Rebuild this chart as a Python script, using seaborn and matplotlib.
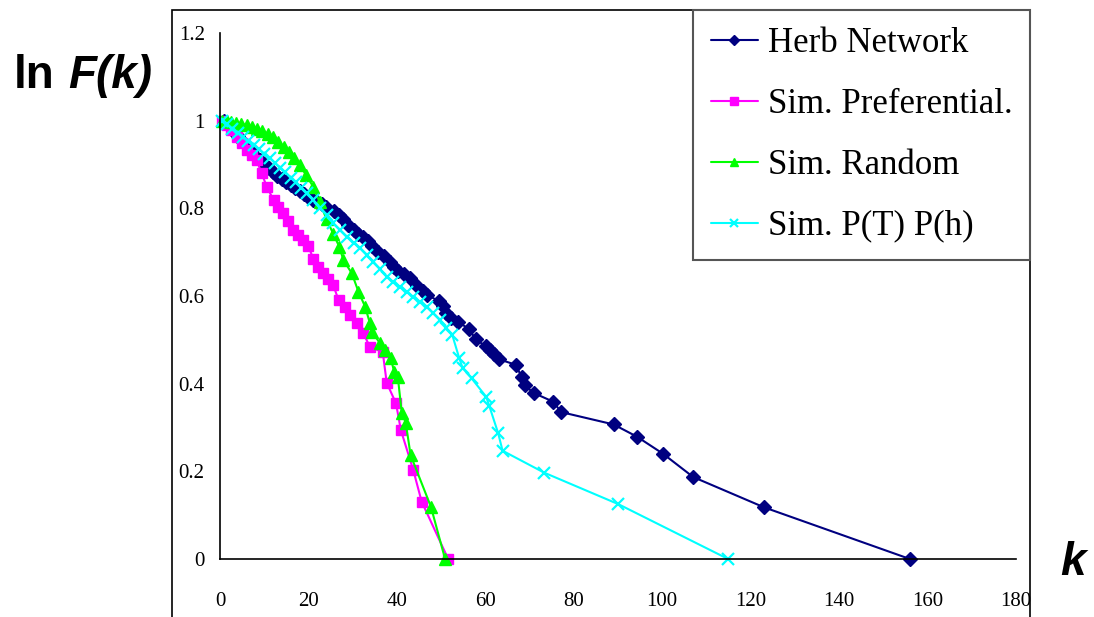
import matplotlib
matplotlib.use("Agg")
import matplotlib.pyplot as plt
from matplotlib.patches import Rectangle
import seaborn as sns

# Cumulative degree distribution, ln F(k) versus k
herb_k = [1, 2, 3, 4, 5, 6, 7, 8, 9, 10, 11, 12, 13, 14, 15, 16, 17, 18, 19, 20,
          21, 22, 23, 24, 25.7, 26.9, 27.9, 29.0, 30.3, 31.1, 32.4, 33.4, 34.4, 35.7,
          37.1, 38.4, 39.4, 40.3, 41.6, 43.0, 44.6, 45.8, 46.9, 49.6, 50.4, 51.2, 52.3,
          53.9, 56.2, 57.9, 60.1, 61.1, 62.0, 63.0, 66.9, 68.2, 68.9, 70.9, 75.3, 77.2,
          89.0, 94.3, 100.2, 107.0, 123.0, 156.0]
herb_f = [1.000, 0.988, 0.977, 0.965, 0.953, 0.942, 0.931, 0.920, 0.910, 0.900,
          0.891, 0.882, 0.874, 0.867, 0.860, 0.853, 0.846, 0.839, 0.832, 0.826,
          0.820, 0.815, 0.810, 0.803, 0.795, 0.784, 0.776, 0.762, 0.750, 0.741,
          0.734, 0.726, 0.714, 0.701, 0.692, 0.678, 0.667, 0.656, 0.651, 0.642,
          0.623, 0.611, 0.602, 0.588, 0.577, 0.561, 0.550, 0.541, 0.525, 0.501,
          0.485, 0.476, 0.467, 0.456, 0.443, 0.415, 0.396, 0.379, 0.359, 0.335,
          0.307, 0.279, 0.240, 0.187, 0.118, 0.000]

pref_k = [0.5, 1.5, 2.6, 3.8, 5.0, 6.2, 7.3, 8.3, 9.4, 10.6, 12.1, 13.2, 14.3, 15.4,
          16.6, 17.7, 18.8, 20.0, 21.1, 22.2, 23.4, 24.5, 25.6, 26.8, 28.3, 29.4,
          30.9, 32.4, 33.9, 36.8, 37.7, 39.8, 40.9, 43.7, 45.6, 51.6]
pref_f = [1.000, 0.990, 0.978, 0.963, 0.948, 0.932, 0.921, 0.910, 0.880, 0.849,
          0.819, 0.804, 0.789, 0.770, 0.751, 0.740, 0.728, 0.713, 0.685, 0.667,
          0.652, 0.638, 0.625, 0.591, 0.576, 0.557, 0.538, 0.515, 0.484, 0.472,
          0.402, 0.355, 0.294, 0.203, 0.131, 0.000]

rand_k = [0.4, 1.5, 2.6, 3.7, 4.8, 6.0, 7.2, 8.4, 9.6, 10.8, 12.0, 13.2, 14.4, 15.6,
          16.8, 18.1, 19.5, 21.1, 22.5, 24.1, 25.6, 27.0, 27.9, 29.8, 31.3, 32.8,
          33.9, 34.3, 36.2, 37.3, 38.6, 39.4, 40.2, 41.1, 42.0, 43.1, 47.7, 50.9]
rand_f = [1.000, 1.000, 0.998, 0.995, 0.993, 0.990, 0.986, 0.982, 0.977, 0.970,
          0.962, 0.952, 0.940, 0.928, 0.915, 0.898, 0.875, 0.849, 0.815, 0.775,
          0.742, 0.712, 0.682, 0.652, 0.610, 0.576, 0.538, 0.519, 0.492, 0.477,
          0.458, 0.427, 0.416, 0.334, 0.311, 0.237, 0.119, 0.000]

pth_k = [0.4, 1.6, 2.8, 4.0, 5.2, 6.4, 7.6, 8.8, 10.0, 11.2, 12.4, 13.6, 14.8, 16.0,
         17.2, 18.4, 19.6, 21.1, 22.6, 24.1, 25.6, 27.2, 28.7, 30.2, 31.7, 33.2,
         34.7, 36.2, 37.7, 39.2, 40.7, 42.2, 43.7, 45.2, 46.7, 48.2, 49.8, 51.1,
         52.5, 54.1, 54.9, 56.9, 60.2, 60.9, 62.9, 63.9, 73.3, 90.1, 114.9]
pth_f = [1.000, 0.992, 0.982, 0.972, 0.963, 0.954, 0.944, 0.935, 0.925, 0.915,
         0.904, 0.893, 0.882, 0.870, 0.859, 0.847, 0.835, 0.819, 0.801, 0.785,
         0.766, 0.750, 0.735, 0.722, 0.709, 0.693, 0.678, 0.661, 0.644, 0.632,
         0.621, 0.610, 0.598, 0.587, 0.576, 0.561, 0.545, 0.528, 0.512, 0.458,
         0.435, 0.412, 0.370, 0.349, 0.287, 0.247, 0.197, 0.125, 0.000]

series_names = ["Herb Network", "Sim. Preferential.", "Sim. Random", "Sim. P(T) P(h)"]
x_ticks = [0, 20, 40, 60, 80, 100, 120, 140, 160, 180]
y_ticks = [0, 0.2, 0.4, 0.6, 0.8, 1, 1.2]
y_tick_labels = ["0", "0.2", "0.4", "0.6", "0.8", "1", "1.2"]

sns.set_style("white")
plt.rcParams["font.family"] = ["Liberation Serif", "DejaVu Serif"]
plt.rcParams["text.color"] = "black"
plt.rcParams["xtick.color"] = "black"
plt.rcParams["ytick.color"] = "black"

W, H = 1094, 617
fig = plt.figure(figsize=(W / 100, H / 100), dpi=100)
ax = fig.add_axes([220 / W, 1 - 559 / H, (1016 - 220) / W, (559 - 33) / H])

styles = [
    (herb_k, herb_f, "#000080", "D", 7.0, 1.0),
    (pref_k, pref_f, "#FF00FF", "s", 7.5, 1.0),
    (rand_k, rand_f, "#00FF00", "^", 8.5, 1.0),
    (pth_k, pth_f, "#00FFFF", "x", 8.5, 1.6),
]
for name, (ks, fs, col, mk, ms, mew) in zip(series_names, styles):
    sns.lineplot(x=ks, y=fs, ax=ax, color=col, marker=mk, markersize=ms,
                 markeredgecolor=col, markerfacecolor=col, markeredgewidth=mew,
                 linewidth=1.5, estimator=None, sort=False, label=name,
                 clip_on=False)

ax.set_xlim(0, 180)
ax.set_ylim(0, 1.2)
ax.set_xticks(x_ticks)
ax.set_xticklabels([str(v) for v in x_ticks])
ax.set_yticks(y_ticks)
ax.set_yticklabels(y_tick_labels)
ax.tick_params(axis="both", direction="in", length=5, width=1, color="#666666",
               labelsize=15, labelcolor="black")
ax.tick_params(axis="x", pad=24)
ax.tick_params(axis="y", pad=11)
for side in ("top", "right"):
    ax.spines[side].set_visible(False)
for side in ("left", "bottom"):
    ax.spines[side].set_color("black")
    ax.spines[side].set_linewidth(1.2)
ax.set_xlabel("")
ax.set_ylabel("")

handles, labels = ax.get_legend_handles_labels()
if ax.get_legend() is not None:
    ax.get_legend().remove()
leg = fig.legend(handles, labels, loc="upper right",
                 bbox_to_anchor=(1030 / W, 1 - 10 / H), bbox_transform=fig.transFigure,
                 fontsize=25, frameon=True, fancybox=False, framealpha=1,
                 edgecolor="#555555", handlelength=1.35, handletextpad=0.3,
                 labelspacing=0.8, borderpad=0.5, borderaxespad=0,
                 markerscale=0.7, labelcolor="black")
leg.get_frame().set_linewidth(1.5)
for h in leg.legend_handles:
    h.set_linewidth(1.5)

# Outer chart border
fig.add_artist(Rectangle((172 / W, -0.1), (1030 - 172) / W, 1.1 - 10 / H,
                         transform=fig.transFigure, fill=False,
                         edgecolor="black", linewidth=1.2))

sans = ["Liberation Sans", "DejaVu Sans"]
fig.text(14 / W, 1 - 88 / H, "ln", fontsize=33, fontweight="bold", family=sans,
         va="baseline", ha="left", color="black")
fig.text(68 / W, 1 - 88 / H, "F(k)", fontsize=33, fontweight="bold",
         fontstyle="italic", family=sans, va="baseline", ha="left", color="black")
fig.text(1060 / W, 1 - 575 / H, "k", fontsize=33, fontweight="bold",
         fontstyle="italic", family=sans, va="baseline", ha="left", color="black")

fig.savefig("out.png", dpi=100)
